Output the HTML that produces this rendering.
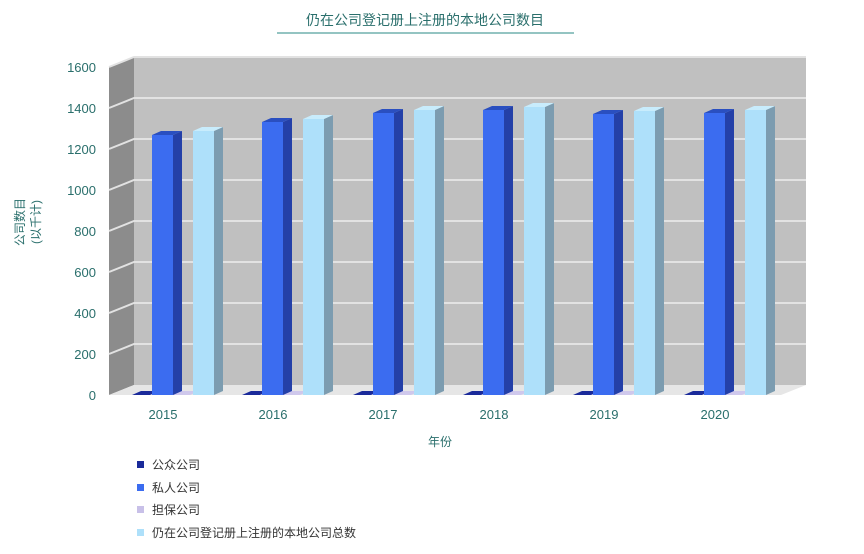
<!DOCTYPE html><html><head><meta charset="utf-8"><style>body{margin:0;background:#fff}svg{display:block}text{font-family:"Liberation Sans","Noto Sans CJK SC",sans-serif}</style></head><body>
<svg width="864" height="554" viewBox="0 0 864 554">
<defs>
<g id="p0"><polygon points="0,0 9,-4 30,-4 21,0" fill="#2a4fc0"/></g>
</defs>
<text x="425" y="25" text-anchor="middle" font-size="14" fill="#2a6f6c">仍在公司登记册上注册的本地公司数目</text>
<line x1="277" y1="33" x2="574" y2="33" stroke="#2a8a85" stroke-width="1"/>
<polygon points="109,67 134,57 134,385 109,395" fill="#8c8c8c"/>
<rect x="134" y="57" width="672" height="328" fill="#c0c0c0"/>
<polygon points="109,395 134,385 806,385 781,395" fill="#e6e6e6"/>
<g stroke="#e2e2e2" stroke-width="2" fill="none">
<polyline points="109,108 134,98 806,98"/><polyline points="109,149 134,139 806,139"/>
<polyline points="109,190 134,180 806,180"/><polyline points="109,231 134,221 806,221"/>
<polyline points="109,272 134,262 806,262"/><polyline points="109,313 134,303 806,303"/>
<polyline points="109,354 134,344 806,344"/><polyline points="109,67 134,57 806,57"/>
</g>
<g font-size="13" fill="#2a6f6c" text-anchor="end">
<text x="96" y="72">1600</text><text x="96" y="113">1400</text><text x="96" y="154">1200</text><text x="96" y="195">1000</text><text x="96" y="236">800</text><text x="96" y="277">600</text><text x="96" y="318">400</text><text x="96" y="359">200</text><text x="96" y="400">0</text></g>
<g font-size="12" fill="#2a6f6c" transform="rotate(-90)"><text x="-222" y="24" text-anchor="middle">公司数目</text><text x="-222" y="40" text-anchor="middle">(以千计)</text></g>

<!-- small bars -->
<g fill="#1a2a9a">
<polygon points="132,395 141,391 159,391 150,395"/><polygon points="242,395 251,391 269,391 260,395"/><polygon points="353,395 362,391 380,391 371,395"/><polygon points="463,395 472,391 490,391 481,395"/><polygon points="573,395 582,391 600,391 591,395"/><polygon points="684,395 693,391 711,391 702,395"/>
</g>
<g fill="#cfc8ec">
<polygon points="172,395 181,391 199,391 190,395"/><polygon points="282,395 291,391 309,391 300,395"/><polygon points="393,395 402,391 420,391 411,395"/><polygon points="503,395 512,391 530,391 521,395"/><polygon points="613,395 622,391 640,391 631,395"/><polygon points="724,395 733,391 751,391 742,395"/>
</g>

<!-- private bars -->
<g transform="translate(152,135)"><polygon points="21,0 30,-4 30,256 21,260" fill="#2440a8"/><polygon points="0,0 9,-4 30,-4 21,0" fill="#2a4fc0"/><rect width="21" height="260" fill="#3b6cf0"/></g>
<g transform="translate(262,122)"><polygon points="21,0 30,-4 30,269 21,273" fill="#2440a8"/><polygon points="0,0 9,-4 30,-4 21,0" fill="#2a4fc0"/><rect width="21" height="273" fill="#3b6cf0"/></g>
<g transform="translate(373,113)"><polygon points="21,0 30,-4 30,278 21,282" fill="#2440a8"/><polygon points="0,0 9,-4 30,-4 21,0" fill="#2a4fc0"/><rect width="21" height="282" fill="#3b6cf0"/></g>
<g transform="translate(483,110)"><polygon points="21,0 30,-4 30,281 21,285" fill="#2440a8"/><polygon points="0,0 9,-4 30,-4 21,0" fill="#2a4fc0"/><rect width="21" height="285" fill="#3b6cf0"/></g>
<g transform="translate(593,114)"><polygon points="21,0 30,-4 30,277 21,281" fill="#2440a8"/><polygon points="0,0 9,-4 30,-4 21,0" fill="#2a4fc0"/><rect width="21" height="281" fill="#3b6cf0"/></g>
<g transform="translate(704,113)"><polygon points="21,0 30,-4 30,278 21,282" fill="#2440a8"/><polygon points="0,0 9,-4 30,-4 21,0" fill="#2a4fc0"/><rect width="21" height="282" fill="#3b6cf0"/></g>

<!-- total bars -->
<g transform="translate(193,131)"><polygon points="21,0 30,-4 30,260 21,264" fill="#7c9cb0"/><polygon points="0,0 9,-4 30,-4 21,0" fill="#c8ecfc"/><rect width="21" height="264" fill="#aee0fa"/></g>
<g transform="translate(303,119)"><polygon points="21,0 30,-4 30,272 21,276" fill="#7c9cb0"/><polygon points="0,0 9,-4 30,-4 21,0" fill="#c8ecfc"/><rect width="21" height="276" fill="#aee0fa"/></g>
<g transform="translate(414,110)"><polygon points="21,0 30,-4 30,281 21,285" fill="#7c9cb0"/><polygon points="0,0 9,-4 30,-4 21,0" fill="#c8ecfc"/><rect width="21" height="285" fill="#aee0fa"/></g>
<g transform="translate(524,107)"><polygon points="21,0 30,-4 30,284 21,288" fill="#7c9cb0"/><polygon points="0,0 9,-4 30,-4 21,0" fill="#c8ecfc"/><rect width="21" height="288" fill="#aee0fa"/></g>
<g transform="translate(634,111)"><polygon points="21,0 30,-4 30,280 21,284" fill="#7c9cb0"/><polygon points="0,0 9,-4 30,-4 21,0" fill="#c8ecfc"/><rect width="21" height="284" fill="#aee0fa"/></g>
<g transform="translate(745,110)"><polygon points="21,0 30,-4 30,281 21,285" fill="#7c9cb0"/><polygon points="0,0 9,-4 30,-4 21,0" fill="#c8ecfc"/><rect width="21" height="285" fill="#aee0fa"/></g>

<g font-size="13" fill="#2a6f6c" text-anchor="middle">
<text x="163" y="419">2015</text><text x="273" y="419">2016</text><text x="383" y="419">2017</text><text x="494" y="419">2018</text><text x="604" y="419">2019</text><text x="715" y="419">2020</text>
<text x="440" y="446" font-size="12">年份</text></g>
<g font-size="12" fill="#333">
<rect x="137" y="461" width="7" height="7" fill="#1a2a9a"/><text x="152" y="469">公众公司</text>
<rect x="137" y="484" width="7" height="7" fill="#3b6cf0"/><text x="152" y="492">私人公司</text>
<rect x="137" y="506" width="7" height="7" fill="#c8c0e8"/><text x="152" y="514">担保公司</text>
<rect x="137" y="529" width="7" height="7" fill="#aee0fa"/><text x="152" y="537">仍在公司登记册上注册的本地公司总数</text>
</g>
</svg></body></html>
